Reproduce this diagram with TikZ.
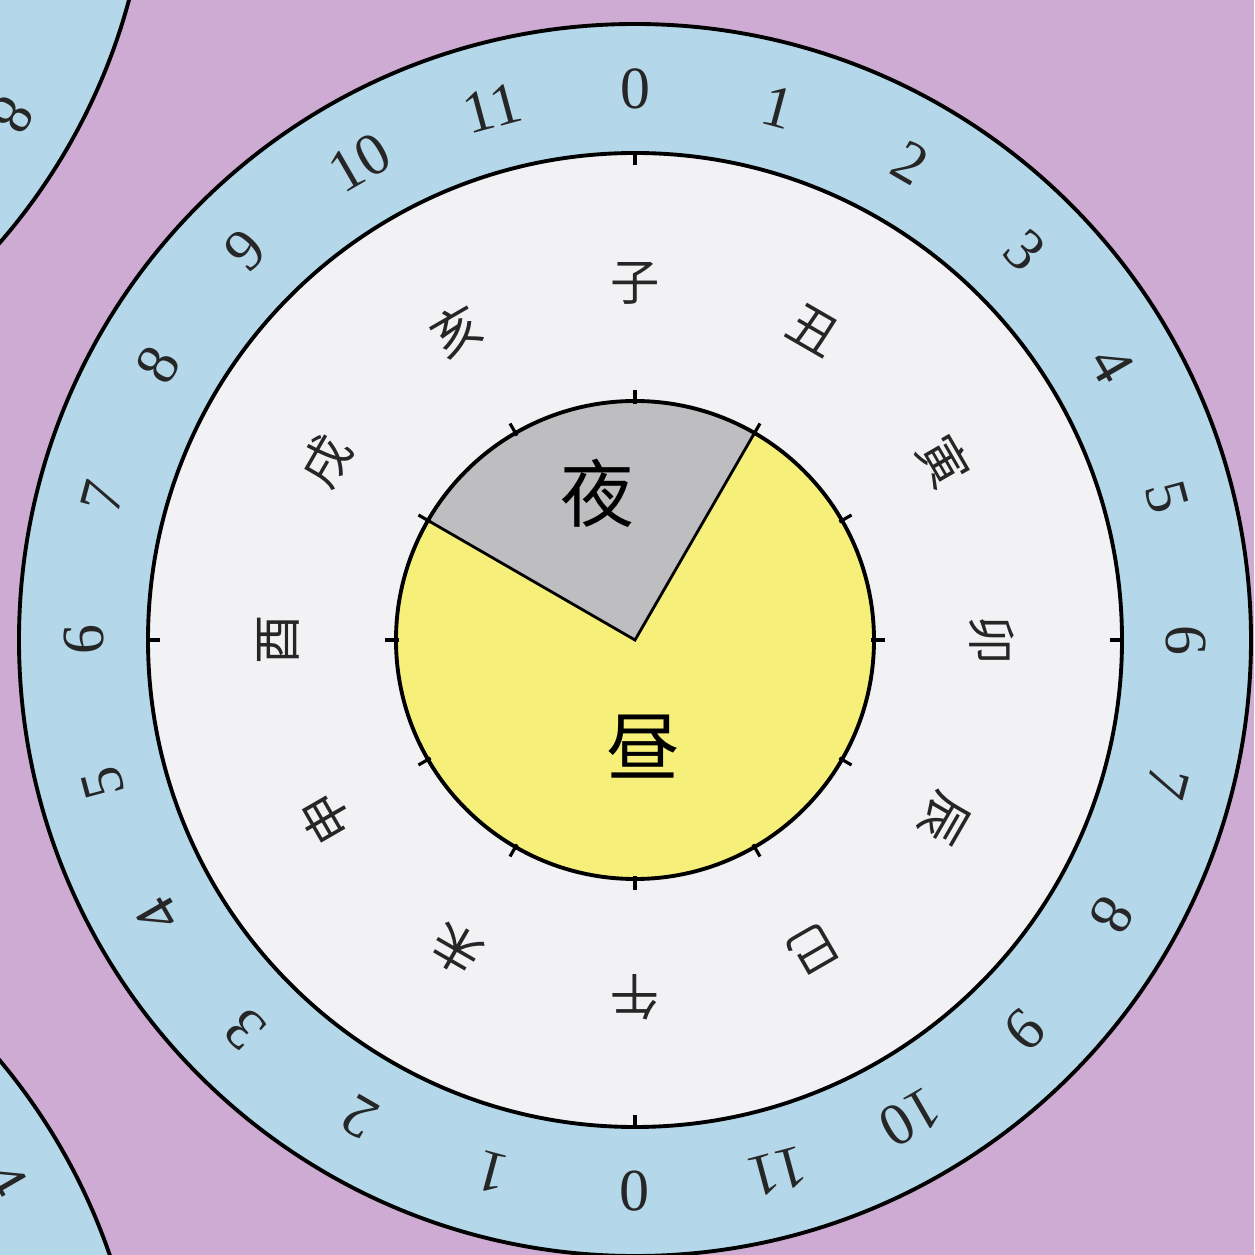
\documentclass[tikz,border=0pt]{standalone}
\usepackage{fontspec}
\setmainfont{Liberation Serif}
\newfontfamily\cjk{Noto Sans CJK SC}
\usepackage{xcolor}
\usepackage{tikz}

\definecolor{bgpurple}{RGB}{205,171,211}
\definecolor{skyring}{RGB}{180,216,233}
\definecolor{paper}{RGB}{242,242,244}
\definecolor{dayyellow}{RGB}{246,240,122}
\definecolor{nightgrey}{RGB}{190,190,193}

\begin{document}
\begin{tikzpicture}[
  x=0.01cm, y=0.01cm,
  ring/.style={draw, line width=1.1pt},
  num/.style={font=\fontsize{17}{17}\selectfont, inner sep=0pt, text=black!85},
  branch/.style={font=\cjk\fontsize{14}{14}\selectfont, inner sep=0pt, text=black!85},
  big/.style={font=\cjk\fontsize{21}{21}\selectfont, inner sep=0pt},
  tickmark/.style={line width=0.9pt},
]
% --- page ---------------------------------------------------------------
\useasboundingbox (-635,-615) rectangle (619,640);
\clip (-635,-615) rectangle (619,640);
\fill[bgpurple] (-635,-615) rectangle (619,640);

% --- neighbouring dials, cut by the page edge ----------------------------
\coordinate (nw) at (-1100,800);
\coordinate (sw) at (-1107,-815);
\draw[ring, fill=skyring] (nw) circle (615);
\draw[ring, fill=skyring] (sw) circle (615);
\node[num, rotate=-120] (nw8) at ([shift={(-30:551)}]nw) {8};
\node[num, rotate=-60]  (sw4) at ([shift={(30:551)}]sw) {4};

% --- main dial: hour ring ------------------------------------------------
\coordinate (o) at (0,0);
\draw[ring, fill=skyring] (o) circle (616);
\draw[ring, fill=paper] (o) circle (487);
\foreach \a in {0,90,180,270}
  \draw[tickmark] (\a:487) -- (\a:475);
\foreach \k in {0,...,23} {
  \pgfmathtruncatemacro\lab{mod(\k,12)}
  \node[num, rotate=-15*\k] (n\k) at (90-15*\k:551) {\lab};
}

% --- twelve branches -----------------------------------------------------
\foreach \ch [count=\i from 0] in {子,丑,寅,卯,辰,巳,午,未,申,酉,戌,亥}
  \node[branch, rotate=-30*\i] (b\i) at (90-30*\i:357) {\ch};

% --- day / night disc ----------------------------------------------------
\fill[dayyellow] (o) circle (239);
\fill[nightgrey] (o) -- (60:239) arc[start angle=60, end angle=150, radius=239] -- cycle;
\draw[line width=0.8pt] (150:239) -- (o) -- (60:239);
\draw[ring] (o) circle (239);
\foreach \a in {0,30,...,330}
  \draw[tickmark] (\a:236) -- (\a:250);
\node[big] (night) at (-38,147) {夜};
\node[big] (day) at (8,-107) {昼};
\end{tikzpicture}
\end{document}
